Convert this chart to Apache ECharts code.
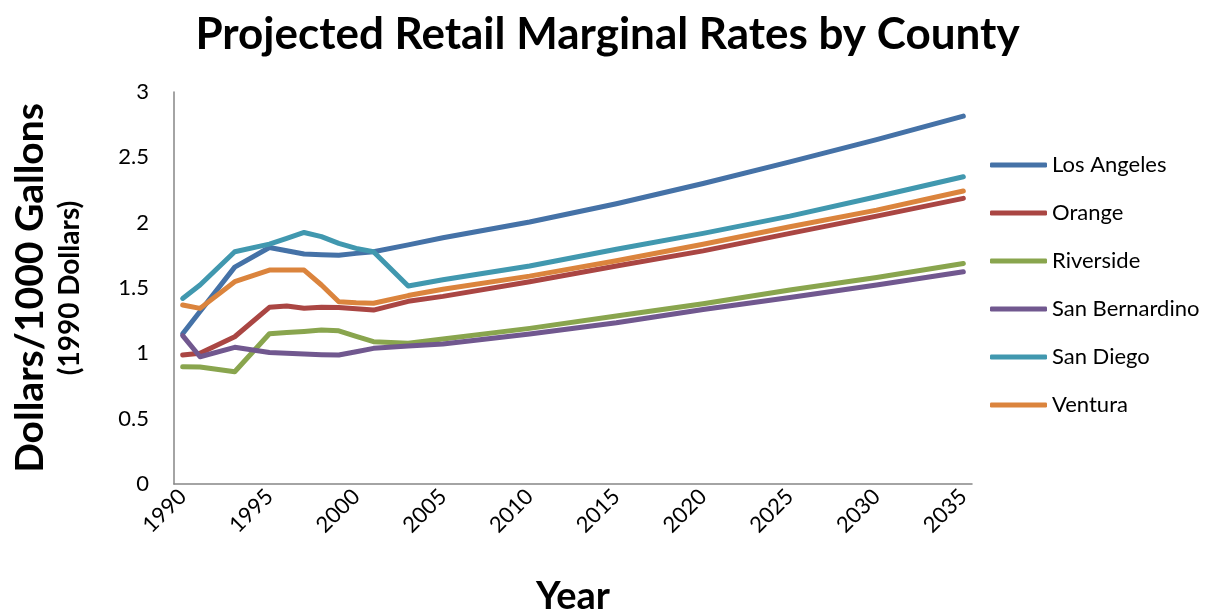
<!DOCTYPE html>
<html>
<head>
<meta charset="utf-8">
<script src="https://cdn.jsdelivr.net/npm/echarts@6/dist/echarts.min.js"></script>
<style>
html,body{margin:0;padding:0;background:#fff;}
#chart{width:1215px;height:613px;}
</style>
</head>
<body>
<div id="chart"></div>
<script>
// Category years on the axis
var years = [];
for (var y = 1990; y <= 2035; y++) years.push(String(y));

var sampleYears = [1990, 1991, 1993, 1995, 1996, 1997, 1998, 1999, 2000, 2001, 2003, 2005, 2010, 2015, 2020, 2025, 2030, 2035];

var seriesNames = ['Los Angeles', 'Orange', 'Riverside', 'San Bernardino', 'San Diego', 'Ventura'];

var losAngeles    = [1.15, 1.32, 1.66, 1.81, 1.785, 1.76, 1.755, 1.75, 1.765, 1.777, 1.83, 1.885, 2.005, 2.145, 2.30, 2.465, 2.635, 2.815];
var orange        = [0.987, 1.0, 1.127, 1.352, 1.362, 1.345, 1.352, 1.35, 1.342, 1.331, 1.398, 1.436, 1.548, 1.668, 1.784, 1.918, 2.05, 2.186];
var riverside     = [0.897, 0.895, 0.859, 1.15, 1.16, 1.168, 1.178, 1.172, 1.13, 1.089, 1.078, 1.11, 1.191, 1.285, 1.38, 1.484, 1.581, 1.688];
var sanBernardino = [1.135, 0.974, 1.046, 1.007, 1.0, 0.995, 0.99, 0.987, 1.012, 1.038, 1.056, 1.072, 1.148, 1.234, 1.335, 1.428, 1.523, 1.624];
var sanDiego      = [1.42, 1.523, 1.777, 1.836, 1.88, 1.925, 1.893, 1.841, 1.803, 1.777, 1.515, 1.563, 1.668, 1.796, 1.918, 2.05, 2.198, 2.351];
var ventura       = [1.37, 1.344, 1.548, 1.637, 1.637, 1.637, 1.523, 1.395, 1.387, 1.383, 1.442, 1.49, 1.591, 1.709, 1.835, 1.969, 2.096, 2.242];

var yTicks = [0, 0.5, 1, 1.5, 2, 2.5, 3];

var colors = ['#4572A7', '#AA4643', '#89A54E', '#71588F', '#4198AF', '#DB843D'];
var allValues = [losAngeles, orange, riverside, sanBernardino, sanDiego, ventura];

function toFull(vals) {
  var out = years.map(function () { return null; });
  sampleYears.forEach(function (yr, i) {
    out[years.indexOf(String(yr))] = vals[i];
  });
  return out;
}

var FONT = 'Lato';

var chart = echarts.init(document.getElementById('chart'));
chart.setOption({
  animation: false,
  backgroundColor: '#ffffff',
  color: colors,
  title: {
    text: 'Projected Retail Marginal Rates by County',
    left: 'center',
    top: 8,
    textStyle: { fontFamily: FONT, fontWeight: 'bold', fontSize: 44, color: '#000' }
  },
  legend: {
    orient: 'vertical',
    left: 985,
    top: 147,
    itemWidth: 57,
    itemHeight: 5,
    itemGap: 22,
    icon: 'roundRect',
    textStyle: { fontFamily: FONT, fontSize: 22, color: '#000', lineHeight: 26 },
    data: seriesNames
  },
  grid: { left: 174, right: 243, top: 92, bottom: 129, containLabel: false, outerBoundsMode: 'none' },
  xAxis: {
    type: 'category',
    data: years,
    boundaryGap: true,
    axisLine: { lineStyle: { color: '#868686', width: 1.5 } },
    axisTick: { show: false },
    axisLabel: {
      interval: 4,
      rotate: 45,
      margin: 9,
      fontFamily: FONT,
      fontSize: 22,
      color: '#000'
    },
    name: 'Year',
    nameLocation: 'middle',
    nameGap: 94,
    nameTextStyle: { fontFamily: FONT, fontWeight: 'bold', fontSize: 38, color: '#000' }
  },
  yAxis: {
    type: 'value',
    min: yTicks[0],
    max: yTicks[yTicks.length - 1],
    interval: 0.5,
    splitLine: { show: false },
    axisLine: { show: true, lineStyle: { color: '#868686', width: 1.5 } },
    axisTick: { show: false },
    axisLabel: { margin: 25, fontFamily: FONT, fontSize: 22, color: '#000' },
    name: '{a|Dollars/1000 Gallons}\n{b|(1990 Dollars)}',
    nameLocation: 'middle',
    nameRotate: 90,
    nameGap: 86,
    nameTextStyle: {
      rich: {
        a: { fontFamily: FONT, fontWeight: 'bold', fontSize: 39, lineHeight: 44, color: '#000' },
        b: { fontFamily: FONT, fontWeight: 'bold', fontSize: 28, lineHeight: 36, color: '#000' }
      }
    }
  },
  series: seriesNames.map(function (n, i) {
    return {
      name: n,
      type: 'line',
      data: toFull(allValues[i]),
      connectNulls: true,
      showSymbol: false,
      symbol: 'none',
      lineStyle: { width: 5, color: colors[i], cap: 'round', join: 'round' },
      itemStyle: { color: colors[i] }
    };
  })
});
</script>
</body>
</html>
